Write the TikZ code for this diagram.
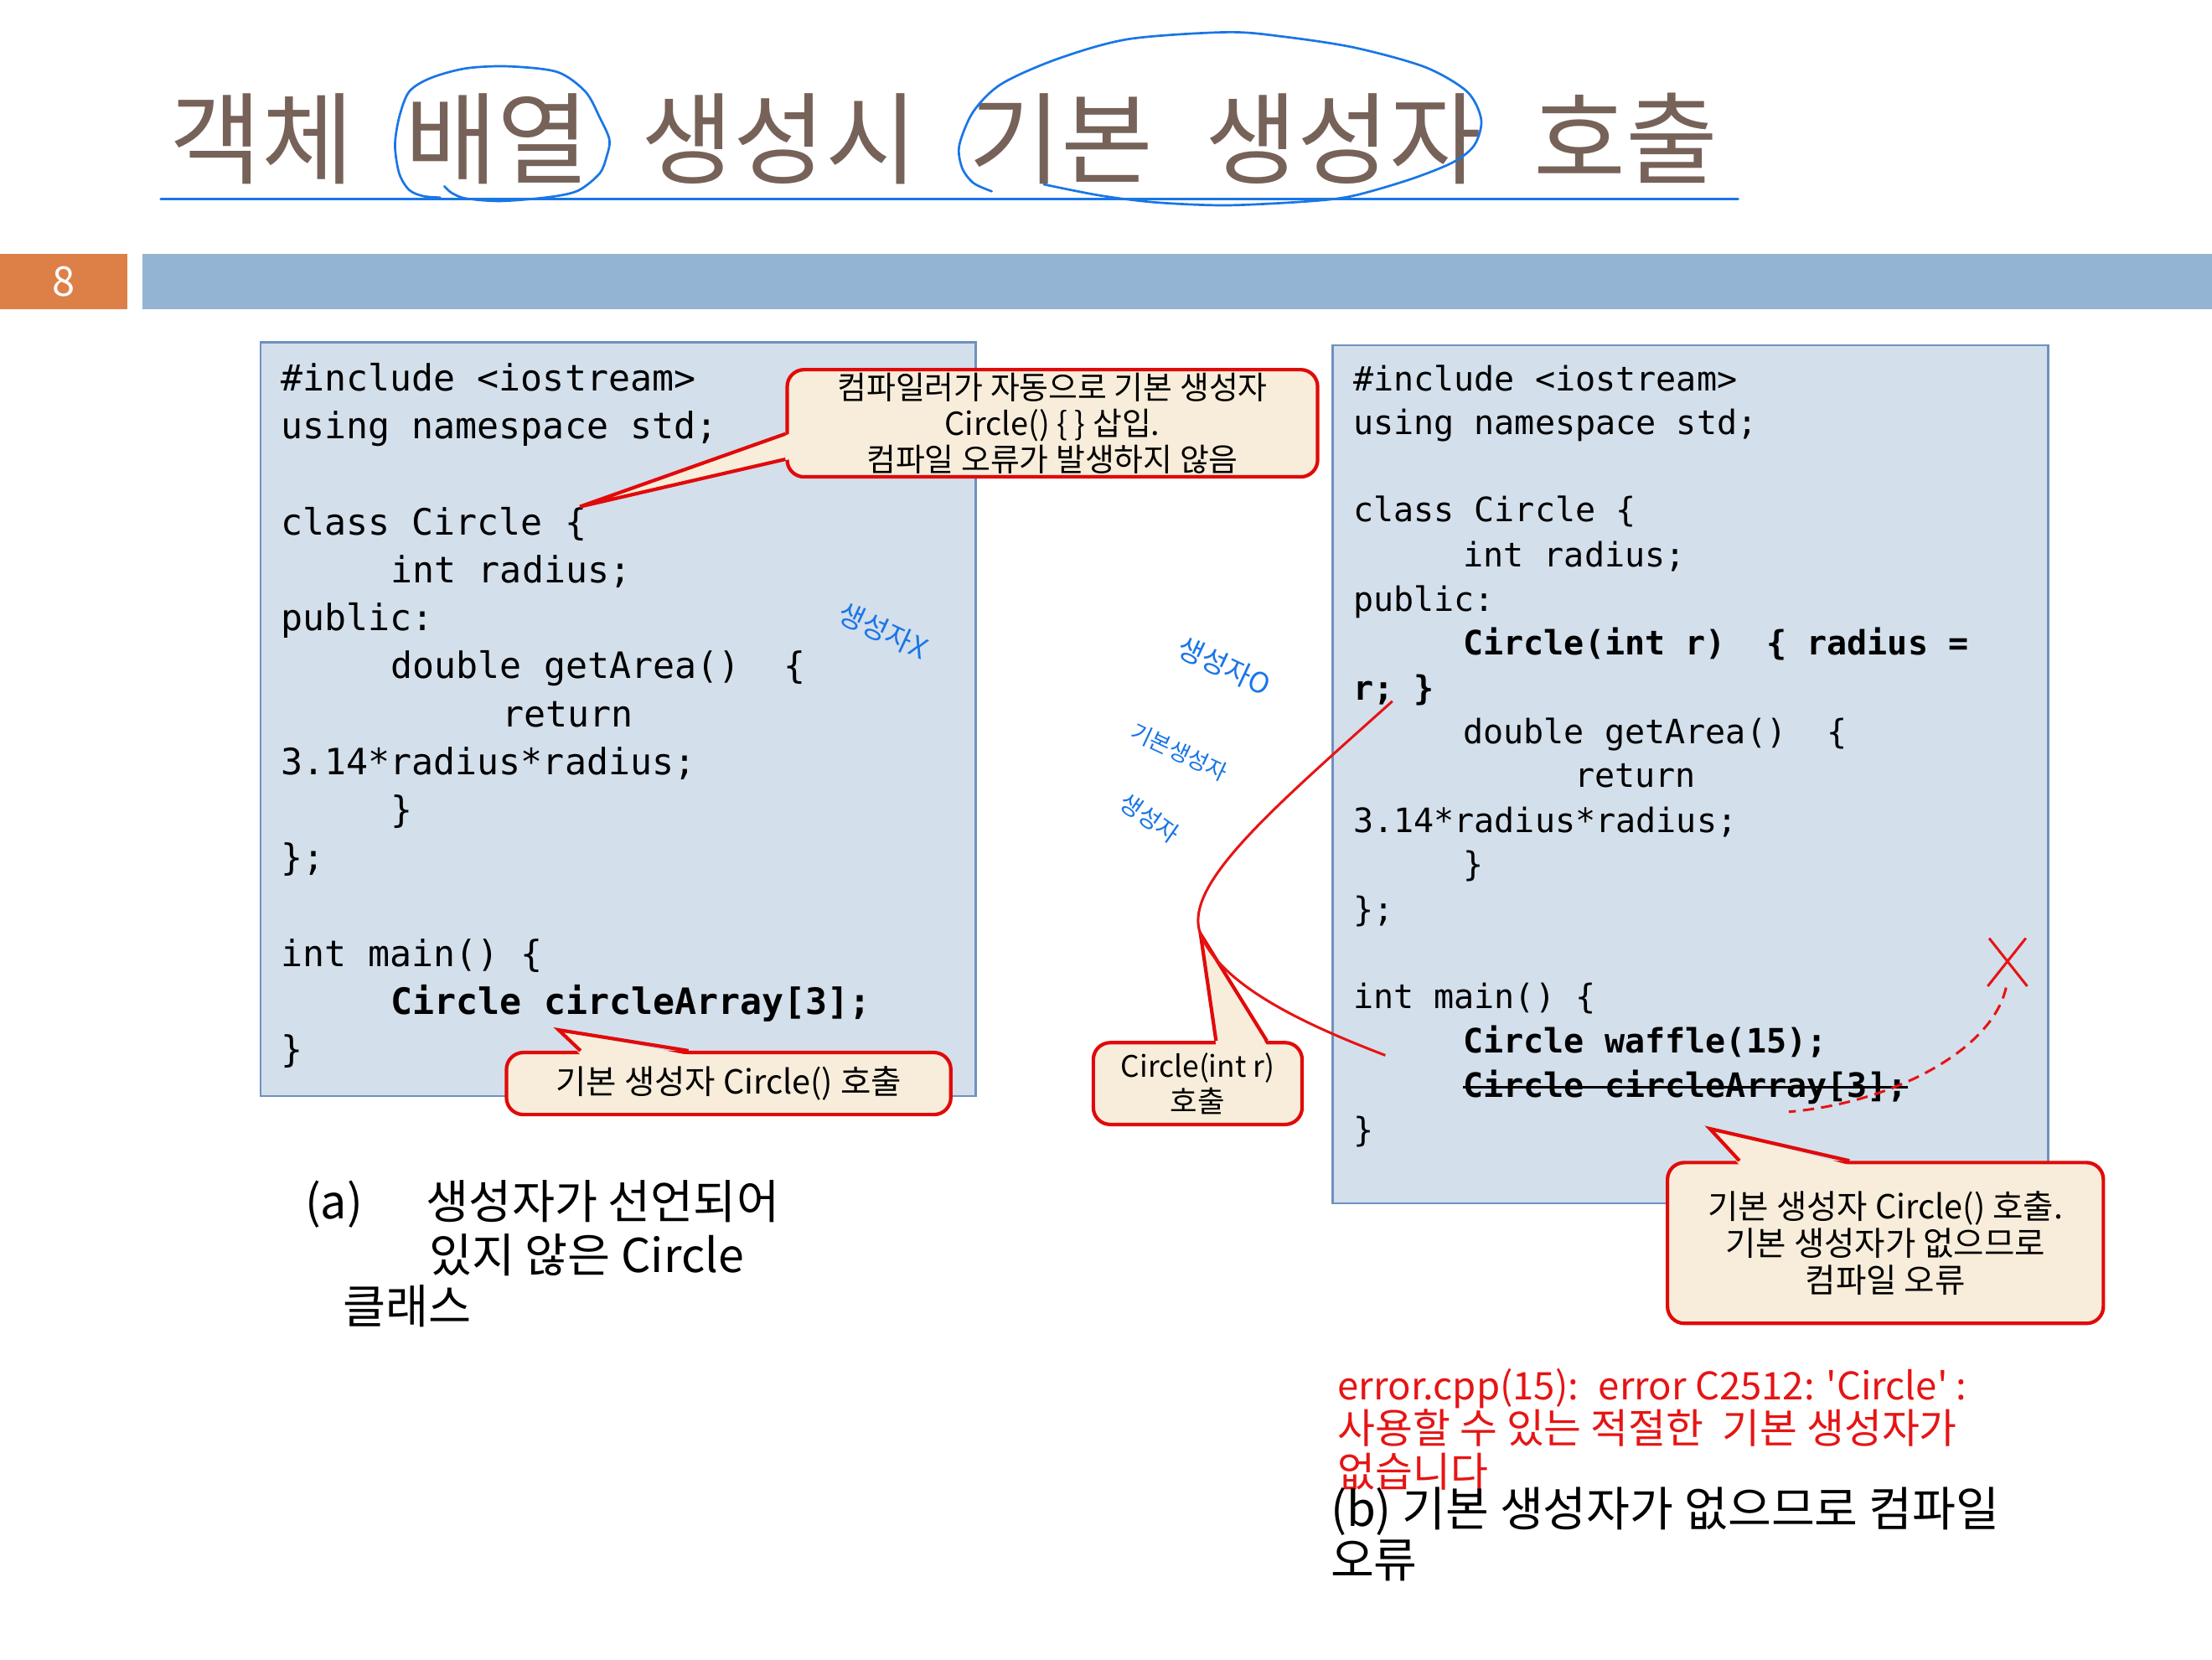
\documentclass[tikz,border=0pt]{standalone}
\usepackage{fontspec}
\setmainfont{Noto Sans CJK KR}
\setmonofont{DejaVu Sans Mono}
\newfontfamily\titlefont{Noto Sans CJK KR}[WordSpace=2.3]
\usetikzlibrary{calc}
\definecolor{titlebrown}{RGB}{118,98,88}
\definecolor{inkblue}{RGB}{25,118,230}
\definecolor{pagenum}{RGB}{221,128,71}
\definecolor{barblue}{RGB}{148,180,211}
\definecolor{boxfill}{RGB}{211,223,235}
\definecolor{boxedge}{RGB}{110,145,190}
\definecolor{calloutred}{RGB}{225,10,10}
\definecolor{calloutfill}{RGB}{247,237,218}
\definecolor{errred}{RGB}{230,20,20}
\begin{document}
\begin{tikzpicture}[
        x=1pt, y=-1pt,
        codebox/.style = {draw=boxedge, fill=boxfill, line width=1.5pt, anchor=north west, inner sep=0pt},
        codeA/.style = {anchor=base west, inner sep=0pt, font=\ttfamily\fontsize{25.7}{34}\selectfont},
        codeB/.style = {anchor=base west, inner sep=0pt, font=\ttfamily\fontsize{23.8}{31}\selectfont},
        callout/.style = {draw=calloutred, fill=calloutfill, line width=2.5pt, rounded corners=12pt, align=center, inner sep=0pt},
        pointer/.style = {draw=calloutred, line width=2.5pt, line join=miter},
        redline/.style = {draw=errred, line width=1.8pt},
        ink/.style = {draw=inkblue, line width=1.6pt, line cap=round},
        note/.style = {text=inkblue, inner sep=0pt},
        caption/.style = {anchor=base west, inner sep=0pt, font=\fontsize{33}{38}\selectfont},
        errline/.style = {anchor=base west, inner sep=0pt, text=errred, font=\fontsize{29}{31}\selectfont},
        ]
    \fill[white] (0,0) rectangle (1568,1176);
    \useasboundingbox (0,0) rectangle (1568,1176);

    % title
    \node[anchor=base west, inner sep=0pt, text=titlebrown, font=\titlefont\fontsize{71}{75}\selectfont] (title) at (120,125) {객체 배열 생성시 기본 생성자 호출};
    \draw[ink, line width=2pt] (114,141) -- (1232,141);
    \draw[ink] plot[smooth] coordinates {(312,140) (300,139) (290,134.6) (283,123) (280,103) (283,83) (290,65) (305,55.4) (330,48.5) (360,47) (395,51) (415,65) (425,83) (432,99) (430,111) (425,123) (410,135) (390,139.6) (355,142.5) (330,140.6) (320,136.6) (315,132)};
    \draw[ink] plot[smooth] coordinates {(703,135.6) (690,129.7) (682,119) (680,103) (690,79) (710,59.4) (750,41.6) (800,27.7) (870,22.8) (910,26) (960,33.7) (1010,47.5) (1040,65) (1050,85) (1045,103) (1030,115) (1000,127) (960,138.6) (930,142.5) (870,145.5) (820,143.5) (780,138.6) (740,130.7)};

    \node[fill=pagenum, minimum width=90pt, minimum height=39pt, anchor=north west, inner sep=0pt, text=white, font=\fontsize{29}{29}\selectfont] (pagenum) at (0,180) {8};
    \node[fill=barblue, minimum width=1467pt, minimum height=39pt, anchor=north west, inner sep=0pt] (bar) at (101,180) {};

    % code boxes
    \node[codebox, minimum width=507pt, minimum height=534pt] (boxA) at (184,242) {};
    \node[codebox, minimum width=507pt, minimum height=608pt] (boxB) at (944,244) {};

    \foreach \x/\y/\t [count=\i] in {
            199/277/{\#include <iostream>},
            199/311/{using namespace std;},
            199/379/{class Circle \{},
            277/413/{int radius;},
            199/447/{public:},
            277/481/{double getArea()~~\{},
            356/515/{return},
            199/549/{3.14*radius*radius;},
            277/583/{\}},
            199/617/{\};},
            199/685/{int main() \{},
            277/719/{\bfseries Circle circleArray[3];},
            199/753/{\}}}
        \node[codeA] (la\i) at (\x,\y) {\t};

    \foreach \x/\y/\t [count=\i] in {
            959/277/{\#include <iostream>},
            959/308/{using namespace std;},
            959/370/{class Circle \{},
            1037/402/{int radius;},
            959/433/{public:},
            1037/464/{\bfseries Circle(int r)~~\{ radius =},
            959/496/{\bfseries r; \}},
            1037/527/{double getArea()~~\{},
            1116/558/{return},
            959/590/{3.14*radius*radius;},
            1037/621/{\}},
            959/653/{\};},
            959/715/{int main() \{},
            1037/746/{\bfseries Circle waffle(15);},
            1037/778/{\bfseries Circle circleArray[3];},
            959/809/{\}}}
        \node[codeB] (lb\i) at (\x,\y) {\t};
    \draw[line width=1.8pt] (lb15.west) -- (lb15.east);

    % callouts
    \node[callout, minimum width=376pt, minimum height=76pt, font=\fontsize{22.5}{25.5}\selectfont] (noteA) at (746,300) {컴파일러가 자동으로 기본 생성자\\Circle() \{ \} 삽입.\\컴파일 오류가 발생하지 않음};
    \coordinate (tipA) at ($(la3.north east)+(-5,0)$);
    \fill[calloutfill] ($(noteA.west)+(3,7.5)$) -- (tipA) -- ($(noteA.west)+(3,25.5)$) -- cycle;
    \draw[pointer] ($(noteA.west)+(0,7.5)$) -- (tipA) -- ($(noteA.west)+(0,25.5)$);

    \node[callout, minimum width=315pt, minimum height=44pt, font=\fontsize{23.5}{26}\selectfont] (noteB) at (516.5,768) {기본 생성자 Circle() 호출};
    \coordinate (tipB) at (396,730);
    \fill[calloutfill] ($(noteB.north)+(-105,3)$) -- (tipB) -- ($(noteB.north)+(-28.5,3)$) -- cycle;
    \draw[pointer] ($(noteB.north)+(-105,0)$) -- (tipB) -- ($(noteB.north)+(-28.5,0)$);

    \node[callout, minimum width=148pt, minimum height=58pt, font=\fontsize{21}{25}\selectfont] (noteC) at (849,768) {Circle(int r)\\호출};
    \coordinate (tipC) at (851,662);
    \fill[calloutfill] ($(noteC.north)+(13,3)$) -- (tipC) -- ($(noteC.north)+(49,3)$) -- cycle;
    \draw[pointer] ($(noteC.north)+(13,0)$) -- (tipC) -- ($(noteC.north)+(49,0)$);

    \node[callout, minimum width=309pt, minimum height=114pt, font=\fontsize{23.5}{26}\selectfont] (noteD) at (1336.5,881) {기본 생성자 Circle() 호출.\\기본 생성자가 없으므로\\컴파일 오류};
    \coordinate (tipD) at (1212,800);
    \fill[calloutfill] ($(noteD.north)+(-103.5,3)$) -- (tipD) -- ($(noteD.north)+(-25.5,3)$) -- cycle;
    \draw[pointer] ($(noteD.north)+(-103.5,0)$) -- (tipD) -- ($(noteD.north)+(-25.5,0)$);

    % red marks
    \coordinate (rEnd) at (987,497);
    \coordinate (waffleEnd) at (982,748);
    \draw[redline] (rEnd) .. controls (900,575) and (838,628) .. (tipC) .. controls (866,700) and (930,728) .. (waffleEnd);
    \coordinate (xmark) at (1423,682);
    \coordinate (dashEnd) at (1268,788);
    \draw[redline] ($(xmark)+(-13,-17)$) -- ($(xmark)+(14,17)$);
    \draw[redline] ($(xmark)+(13,-17)$) -- ($(xmark)+(-14,17)$);
    \draw[redline, dash pattern=on 8pt off 5pt] ($(xmark)+(-1,18)$) .. controls (1412,745) and (1340,782) .. (dashEnd);

    % hand notes
    \node[note, rotate=-25, font=\fontsize{20}{20}\selectfont] (noteX) at (626,447) {생성자X};
    \node[note, rotate=-25, font=\fontsize{20}{20}\selectfont] (noteO) at (868,472) {생성자O};
    \node[note, rotate=-25, font=\fontsize{16}{16}\selectfont] (noteBasic) at (836,533) {기본생성자};
    \node[note, rotate=-35, font=\fontsize{17}{17}\selectfont] (noteCtor) at (815,580) {생성자};

    % captions
    \node[caption] (capA) at (216,864) {(a)};
    \node[caption] (capA1) at (302,864) {생성자가 선언되어};
    \node[caption] (capA2) at (304,902) {있지 않은 Circle};
    \node[caption] (capA3) at (243,938) {클래스};

    \node[errline, font=\fontsize{27}{31}\selectfont] (err1) at (948,992) {error.cpp(15):~ error C2512: \textquotesingle Circle\textquotesingle~:};
    \node[errline] (err2) at (948,1023) {사용할 수 있는 적절한~ 기본 생성자가};
    \node[errline] (err3) at (948,1054) {없습니다};

    \node[caption, font=\fontsize{33.5}{38}\selectfont] (capB1) at (943,1082) {(b) 기본 생성자가 없으므로 컴파일};
    \node[caption, font=\fontsize{33.5}{38}\selectfont] (capB2) at (943,1118) {오류};
\end{tikzpicture}
\end{document}
